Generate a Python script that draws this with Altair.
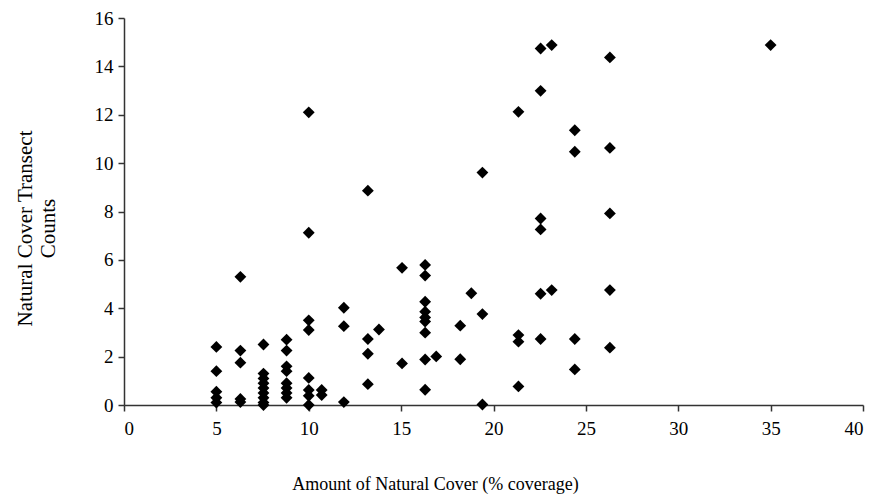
import altair as alt
import pandas as pd

# Amount of natural cover (% coverage) for each column of points
cover = [5.0, 6.3, 7.55, 8.8, 10.0, 10.7, 11.9, 13.2, 13.8, 15.05, 16.3, 16.9,
         18.2, 18.8, 19.4, 21.35, 22.55, 23.15, 24.4, 26.3, 35.0]

# Natural cover transect counts observed at each cover value
counts = [
    [2.4, 1.4, 0.55, 0.3, 0.1],
    [5.3, 2.25, 1.75, 0.25, 0.12],
    [2.5, 1.3, 1.1, 0.9, 0.7, 0.5, 0.3, 0.1, 0.0],
    [2.7, 2.25, 1.6, 1.4, 0.9, 0.7, 0.5, 0.3],
    [12.1, 7.12, 3.5, 3.1, 1.12, 0.62, 0.38, 0.0],
    [0.62, 0.41],
    [4.02, 3.26, 0.12],
    [8.86, 2.73, 2.12, 0.86],
    [3.12],
    [5.67, 1.72],
    [5.79, 5.35, 4.27, 3.86, 3.62, 3.45, 2.99, 1.88, 0.63],
    [2.01],
    [3.28, 1.89],
    [4.62],
    [9.61, 3.76, 0.02],
    [12.12, 2.89, 2.62, 0.77],
    [14.74, 12.99, 7.71, 7.26, 4.6, 2.73],
    [14.88, 4.75],
    [11.36, 10.47, 2.73, 1.47],
    [14.37, 10.63, 7.92, 4.75, 2.37],
    [14.88],
]

x_ticks = [0, 5, 10, 15, 20, 25, 30, 35, 40]
y_ticks = [0, 2, 4, 6, 8, 10, 12, 14, 16]

rows = []
for c, ys in zip(cover, counts):
    for v in ys:
        rows.append({"cover": c, "count": v})
df = pd.DataFrame(rows)

FONT = "Liberation Serif"

chart = (
    alt.Chart(df)
    .mark_point(shape="diamond", filled=True, size=140, color="black", opacity=1)
    .encode(
        x=alt.X(
            "cover:Q",
            scale=alt.Scale(domain=[0, 40], nice=False, zero=False),
            axis=alt.Axis(
                values=x_ticks,
                title="Amount of Natural Cover (% coverage)",
                titleX=311,
                titleY=79,
                titleAlign="center",
                titleBaseline="middle",
                labelPadding=8,
            ),
        ),
        y=alt.Y(
            "count:Q",
            scale=alt.Scale(domain=[0, 16], nice=False),
            axis=alt.Axis(
                values=y_ticks,
                title=["Natural Cover Transect", "Counts"],
                titleX=-89,
                titleY=210,
                titleAngle=-90,
                titleAlign="center",
                titleBaseline="bottom",
                titleFontSize=21,
                titleLineHeight=23,
                labelPadding=5,
            ),
        ),
    )
    .properties(
        width=739,
        height=387,
        autosize=alt.AutoSizeParams(type="none"),
        padding={"left": 116, "top": 10, "right": 7, "bottom": 90},
    )
    .configure_view(stroke=None)
    .configure_axis(
        grid=False,
        domainColor="#333333",
        domainWidth=1.5,
        tickColor="#333333",
        tickWidth=1.5,
        tickSize=6,
        labelFont=FONT,
        labelFontSize=19,
        labelColor="black",
        titleFont=FONT,
        titleFontSize=18,
        titleFontWeight="normal",
        titleColor="black",
    )
)

chart.save("out.html", embed_options={"renderer": "svg", "actions": False})
